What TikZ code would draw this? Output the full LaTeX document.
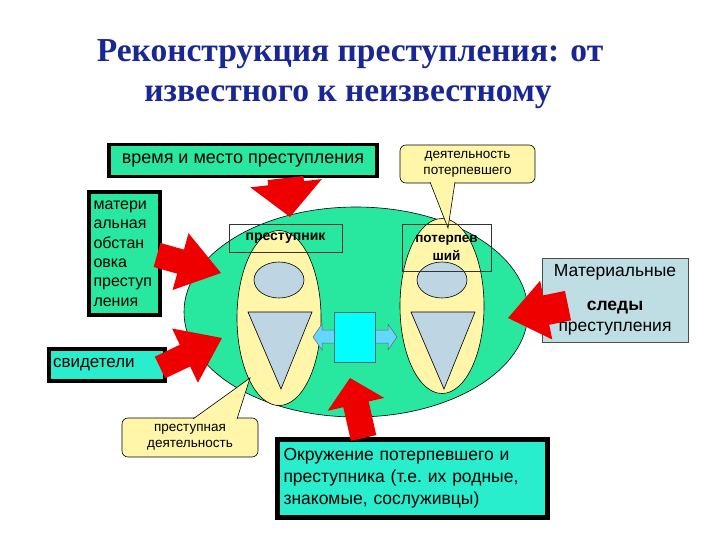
\documentclass[tikz,border=0pt]{standalone}
\usepackage{fontspec}
\setmainfont{Liberation Sans}
\newfontfamily\zagfont{Liberation Serif}
\usetikzlibrary{calc,shadows}

\definecolor{zelenyj}{RGB}{40,232,160}
\definecolor{biruza}{RGB}{40,238,205}
\definecolor{zheltyj}{RGB}{255,246,170}
\definecolor{seryj}{RGB}{190,214,228}
\definecolor{goluboj}{RGB}{0,255,255}
\definecolor{svgoluboj}{RGB}{100,215,255}
\definecolor{krasnyj}{RGB}{238,0,0}
\definecolor{sinij}{RGB}{24,38,150}
\definecolor{tablica}{RGB}{190,222,228}

% красная стрелка: хвост, острие, полуширина, полуширина головы, длина головы
\newcommand{\redarrow}[5]{%
  \coordinate (hb) at ($(#2)!#5!(#1)$);
  \fill[krasnyj] ($(#1)!#3!90:(#2)$) -- ($(hb)!#3!90:(#2)$) -- ($(hb)!#4!90:(#2)$)
    -- (#2) -- ($(hb)!#4!-90:(#2)$) -- ($(hb)!#3!-90:(#2)$) -- ($(#1)!#3!-90:(#2)$) -- cycle;
}

\begin{document}
\begin{tikzpicture}[x=1pt,y=-1pt]
\tikzstyle{box} = [draw=black, line width=3.5pt, fill=zelenyj, inner sep=0, font=\fontsize{18}{21}\selectfont]
\tikzstyle{ten} = [drop shadow={shadow xshift=2pt, shadow yshift=-2pt, fill=black, opacity=1}]
\tikzstyle{ramka} = [draw=black!80, line width=0.8pt, inner sep=0, font=\bfseries\fontsize{14}{17}\selectfont]
\tikzstyle{vynoska} = [draw=black, line width=0.6pt, fill=zheltyj, rounded corners=6pt, inner sep=0, align=center, font=\fontsize{13.5}{16}\selectfont]
\tikzstyle{kontur} = [draw=black, line width=0.6pt]

\useasboundingbox (0,0) rectangle (720,540);

% Заголовок
\node[anchor=base, text=sinij, font=\zagfont\bfseries\fontsize{33.5}{38}\selectfont] (zag1) at (350,62) {Реконструкция преступления: от};
\node[anchor=base, text=sinij, font=\zagfont\bfseries\fontsize{33.5}{38}\selectfont] (zag2) at (348,102) {известного к неизвестному};

% Большой овал
\draw[kontur, fill=zelenyj] (356,312) ellipse [x radius=172, y radius=105];

% Преступник и потерпевший
\foreach \cx/\cy in {279/318, 442/306} {
  \draw[kontur, fill=zheltyj] (\cx,\cy) ellipse [x radius=42, y radius=87.5];
  \draw[kontur, fill=seryj] (\cx,280) ellipse [x radius=25, y radius=18];
  \draw[kontur, fill=seryj] (\cx-31,312) -- (\cx+33,312) -- (\cx+2,389) -- cycle;
}

% Связь между ними
\draw[draw=black!60, line width=0.5pt, fill=svgoluboj] (336,330) -- (322,330) -- (322,324) -- (313,337)
  -- (322,350) -- (322,343) -- (336,343) -- cycle;
\draw[draw=black!60, line width=0.5pt, fill=svgoluboj] (373,330) -- (388,330) -- (388,324) -- (397,337)
  -- (388,350) -- (388,343) -- (373,343) -- cycle;
\node[draw=black!60, line width=0.5pt, fill=goluboj, minimum width=41pt, minimum height=50pt, inner sep=0] (svyaz) at (354.5,337) {};

% Выноски
\node[vynoska, minimum width=135pt, minimum height=38pt] (deyat1) at (467.5,164) {деятельность\\потерпевшего};
\node[vynoska, minimum width=136pt, minimum height=39pt] (deyat2) at (190,437.5) {преступная\\деятельность};
\coordinate (uk1) at (448,228);
\coordinate (uk2) at (250,378);
\coordinate (a1) at (430,182);  \coordinate (b1) at (455,182);
\coordinate (a2) at (193,419);  \coordinate (b2) at (237,419);
\fill[zheltyj] (a1) -- (uk1) -- (b1) -- cycle;
\fill[zheltyj] (a2) -- (uk2) -- (b2) -- cycle;
\draw[kontur] (a1) -- (uk1) -- (b1);
\draw[kontur] (a2) -- (uk2) -- (b2);

% Подписи
\node[ramka, minimum width=113pt, minimum height=28pt] (prest) at (285.5,238) {преступник};
\node[ramka, minimum width=89pt, minimum height=47pt, align=center, font=\bfseries\fontsize{13.5}{18}\selectfont] (poter) at (446.5,248) {потерпев\\ший};

% Рамки
\node[box, ten, minimum width=268pt, minimum height=32pt] (vremya) at (243,160.5) {время и место преступления};
\node[box, ten, minimum width=71pt, minimum height=123pt, text width=62pt, align=left, font=\fontsize{16}{19.4}\selectfont] (mater) at (124.5,253.5) {матери\\альная\\обстан\\овка\\преступ\\ления};
\node[box, ten, fill=biruza, minimum width=116pt, minimum height=32pt, text width=108pt, align=left, font=\fontsize{17}{20}\selectfont] (svid) at (107,365) {свидетели};
\node[box, ten, fill=biruza, line width=5pt, minimum width=270pt, minimum height=78pt, text width=258pt, align=left, font=\fontsize{17.5}{22}\selectfont] (okr) at (412.5,478.5) {Окружение потерпевшего и\\преступника (т.е.\ их родные,\\знакомые, сослуживцы)};
\node[draw=black!70, line width=0.8pt, fill=tablica, minimum width=146pt, minimum height=84pt, inner sep=0, align=center, font=\fontsize{17.5}{21}\selectfont] (mat) at (615,300) {Материальные\\[13pt]\textbf{следы}\\преступления};

% Красные стрелки
\coordinate (s1) at (285.5,178);   \coordinate (o1) at (290,217);
\coordinate (s2) at (157,255);     \coordinate (o2) at (221,273);
\coordinate (s3) at (160,367.5);   \coordinate (o3) at (222,338);
\coordinate (s4) at (363.6,438);   \coordinate (o4) at (350,378);
\coordinate (s5) at (568,305.6);   \coordinate (o5) at (508,318);
\redarrow{s1}{o1}{18pt}{36pt}{34pt}
\redarrow{s2}{o2}{12.5pt}{29.5pt}{42pt}
\redarrow{s3}{o3}{12pt}{30pt}{41pt}
\redarrow{s4}{o4}{13pt}{29pt}{27pt}
\redarrow{s5}{o5}{15pt}{30pt}{39pt}

\end{tikzpicture}
\end{document}
